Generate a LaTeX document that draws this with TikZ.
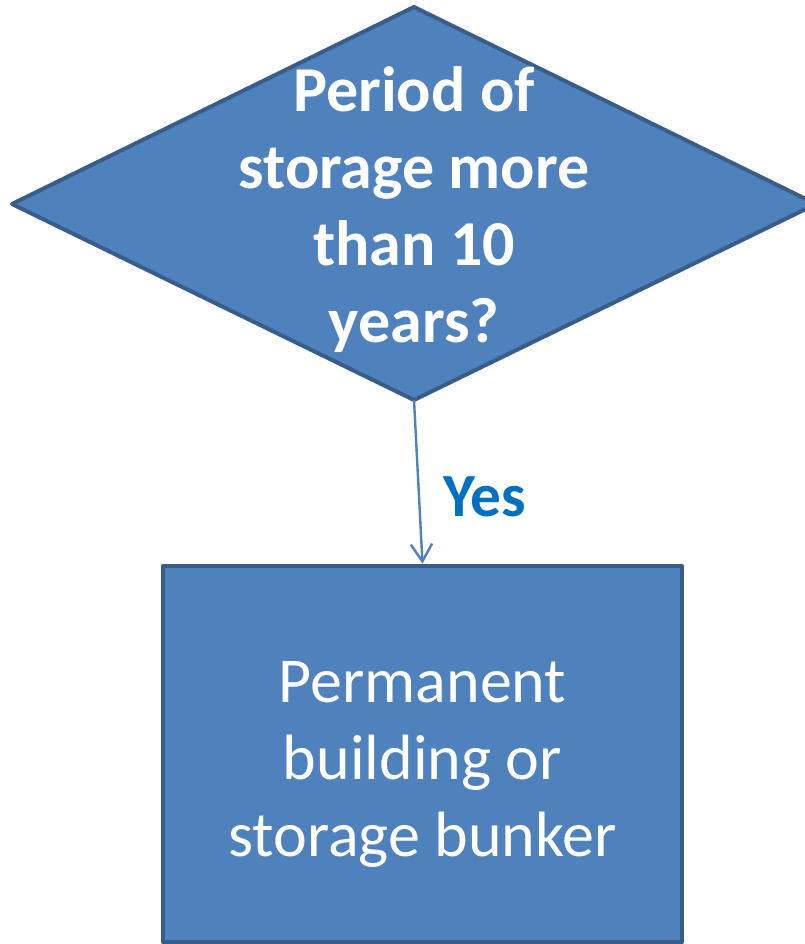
\documentclass[tikz,border=0pt]{standalone}
\usepackage{fontspec}
\setmainfont{Carlito}
\usetikzlibrary{arrows.meta}
\definecolor{shapefill}{HTML}{4F81BD}
\definecolor{shapeline}{HTML}{385D8A}
\definecolor{labelblue}{HTML}{0070C0}
\tikzset{
  shapestyle/.style={fill=shapefill, draw=shapeline, line width=3pt, line join=round},
  bigtext/.style={text=white, align=center, font=\fontsize{48}{57.75}\selectfont},
  flowarrow/.style={draw=shapefill, line width=1.8pt, -{Straight Barb[length=13pt,width=16pt,line width=1.8pt]}},
}
\begin{document}
\begin{tikzpicture}[x=0.75pt,y=-0.75pt]
  \useasboundingbox (0,0) rectangle (804,944);
  % decision diamond
  \coordinate (dtop) at (414,7);
  \coordinate (dleft) at (12,204);
  \coordinate (dright) at (816,204);
  \coordinate (dbottom) at (414,400);
  \draw[shapestyle] (dtop) -- (dright) -- (dbottom) -- (dleft) -- cycle;
  \node[bigtext, font=\fontsize{48}{57.75}\selectfont\bfseries] (question) at (414,210)
    {Period of\\storage more\\than 10\\years?};
  % outcome box
  \node[shapestyle, inner sep=0pt, minimum width=389.25pt, minimum height=282pt,
        line width=3.5pt] (outcome) at (422.5,754) {};
  \node[bigtext] (outcometext) at (422.5,764) {Permanent\\building or\\storage bunker};
  % connector
  \draw[flowarrow] (dbottom) -- (outcome.north);
  \node[text=labelblue, font=\fontsize{46}{54}\selectfont\bfseries] (yes) at (485,497) {Yes};
\end{tikzpicture}
\end{document}
